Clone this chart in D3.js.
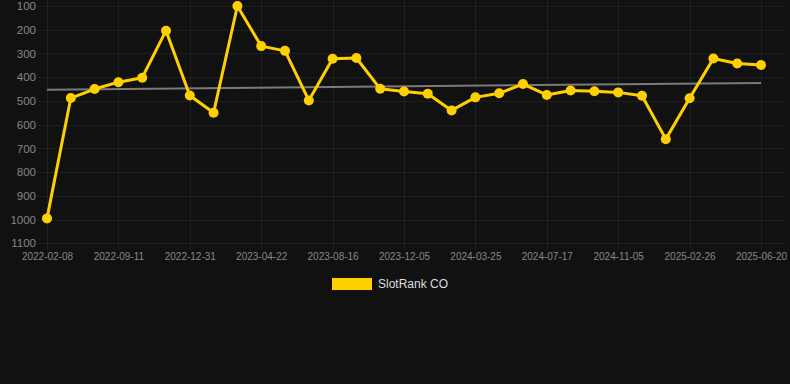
<!DOCTYPE html>
<html>
<head>
<meta charset="utf-8">
<script src="https://cdn.jsdelivr.net/npm/d3@7/dist/d3.min.js"></script>
<style>
html,body{margin:0;padding:0;background:#111111;}
svg{display:block;}
</style>
</head>
<body>
<svg id="chart" width="790" height="384"></svg>
<script>
const categories = [
  "2022-02-08","2022-05-01","2022-07-20","2022-09-11","2022-10-18","2022-11-24",
  "2022-12-31","2023-02-06","2023-03-15","2023-04-22","2023-05-30","2023-07-08",
  "2023-08-16","2023-09-22","2023-10-29","2023-12-05","2024-01-10","2024-02-17",
  "2024-03-25","2024-05-01","2024-06-09","2024-07-17","2024-08-22","2024-09-29",
  "2024-11-05","2024-12-12","2025-01-19","2025-02-26","2025-04-04","2025-05-12",
  "2025-06-20"
];
const rankValues = [
  995, 488, 450, 421, 402, 204,
  477, 550, 100, 269, 289, 498,
  322, 319, 449, 460, 470, 540,
  485, 468, 429, 475, 456, 459,
  464, 478, 661, 489, 321, 342,
  349
];
const tickLabels = ["2022-02-08","2022-09-11","2022-12-31","2023-04-22","2023-08-16",
  "2023-12-05","2024-03-25","2024-07-17","2024-11-05","2025-02-26","2025-06-20"];
const yTicks = [100,200,300,400,500,600,700,800,900,1000,1100];
const trendValues = [453, 424];
const seriesName = "SlotRank CO";

const svg = d3.select("#chart");
const x = d3.scalePoint().domain(categories).range([47, 761]);
const y = d3.scaleLinear().domain([100, 1100]).range([6, 243.3]);

const gridColor = "rgba(255,255,255,0.055)";
// horizontal grid
svg.append("g").selectAll("line").data(yTicks).join("line")
  .attr("x1", 38).attr("x2", 786)
  .attr("y1", d => Math.round(y(d)) + 0.5).attr("y2", d => Math.round(y(d)) + 0.5)
  .attr("stroke", gridColor).attr("stroke-width", 1);
// vertical grid
svg.append("g").selectAll("line").data(tickLabels).join("line")
  .attr("x1", d => Math.round(x(d)) + 0.5).attr("x2", d => Math.round(x(d)) + 0.5)
  .attr("y1", 0).attr("y2", 250)
  .attr("stroke", gridColor).attr("stroke-width", 1);

// y axis labels
const yAxis = d3.axisLeft(y).tickValues(yTicks).tickFormat(d3.format("d")).tickSize(0).tickPadding(0);
const gy = svg.append("g").attr("transform", "translate(36,0)").call(yAxis);
gy.select(".domain").remove();
gy.selectAll("text").attr("fill", "#878787")
  .style("font-family", "Liberation Sans, Arial, sans-serif").style("font-size", "11.5px");

// x axis labels
const xAxis = d3.axisBottom(x).tickValues(tickLabels).tickSize(0).tickPadding(0);
const gx = svg.append("g").attr("transform", "translate(0,253)").call(xAxis);
gx.select(".domain").remove();
gx.selectAll("text").attr("fill", "#878787")
  .style("font-family", "Liberation Sans, Arial, sans-serif").style("font-size", "10px");

// trend line
svg.append("line")
  .attr("x1", x(categories[0])).attr("y1", y(trendValues[0]))
  .attr("x2", x(categories[categories.length - 1])).attr("y2", y(trendValues[1]))
  .attr("stroke", "#7a7a7a").attr("stroke-width", 2);

// series line
const data = categories.map((c, i) => ({c, v: rankValues[i]}));
svg.append("path").datum(data)
  .attr("fill", "none").attr("stroke", "#FFD000").attr("stroke-width", 3)
  .attr("stroke-linejoin", "round")
  .attr("d", d3.line().x(d => x(d.c)).y(d => y(d.v)));
svg.append("g").selectAll("circle").data(data).join("circle")
  .attr("cx", d => x(d.c)).attr("cy", d => y(d.v)).attr("r", 5)
  .attr("fill", "#FFD000");

// legend
const lg = svg.append("g");
lg.append("rect").attr("x", 332).attr("y", 278).attr("width", 40).attr("height", 12)
  .attr("fill", "#FFD000");
lg.append("text").attr("x", 378).attr("y", 284).attr("dy", "0.35em")
  .attr("fill", "#dddddd")
  .style("font-family", "Liberation Sans, Arial, sans-serif").style("font-size", "12px")
  .text(seriesName);
</script>
</body>
</html>
